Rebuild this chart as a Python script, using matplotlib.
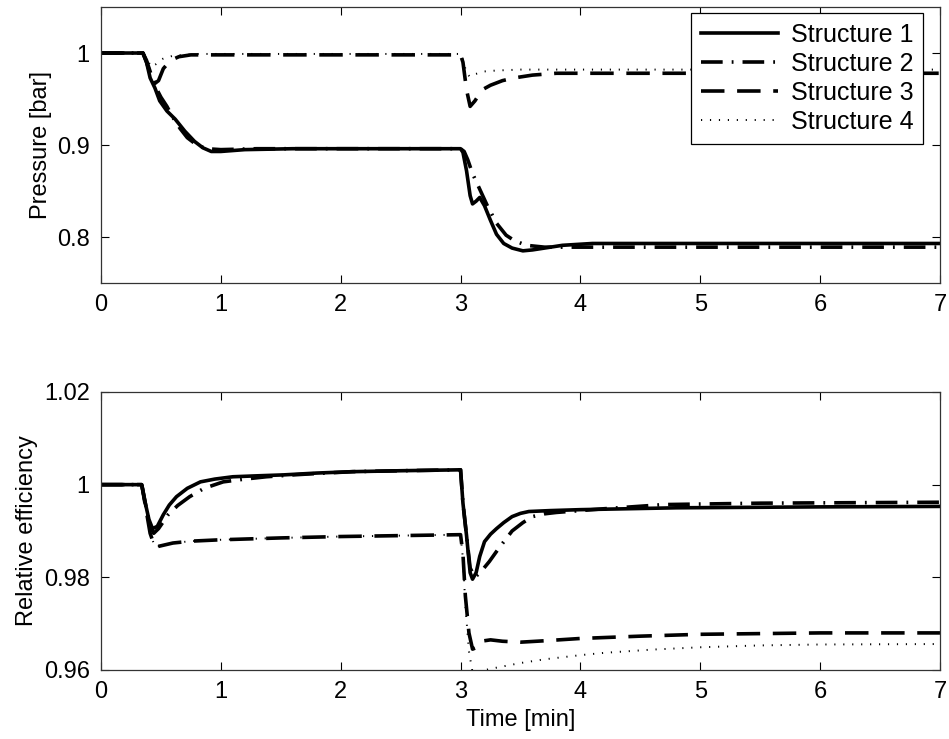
import matplotlib
matplotlib.use('Agg')

import matplotlib.pyplot as plt

plt.rcParams['font.family'] = ['Liberation Sans', 'DejaVu Sans']
plt.rcParams['font.size'] = 17

# --- Data ---
# Pressure [bar]
t_p1 = [0, 0.35, 0.38, 0.41, 0.45, 0.49, 0.55, 0.62, 0.7, 0.78, 0.85, 0.92, 1.0, 1.2, 1.6, 2.0, 2.5, 3.0,
        3.02, 3.05, 3.08, 3.1, 3.13, 3.16, 3.2, 3.25, 3.3, 3.36, 3.43, 3.52, 3.6, 3.7, 3.85, 4.1, 5.0, 6.0, 7.0]
p_s1 = [1.0, 1.0, 0.99, 0.973, 0.962, 0.948, 0.937, 0.928, 0.915, 0.904, 0.897, 0.893, 0.893, 0.895, 0.896, 0.896, 0.896, 0.896,
        0.892, 0.872, 0.845, 0.836, 0.839, 0.843, 0.834, 0.818, 0.803, 0.793, 0.788, 0.785, 0.786, 0.788, 0.791, 0.793, 0.793, 0.793, 0.793]

t_p2 = [0, 0.35, 0.38, 0.42, 0.46, 0.5, 0.55, 0.6, 0.66, 0.72, 0.8, 0.88, 1.0, 1.3, 2.0, 3.0,
        3.03, 3.06, 3.1, 3.16, 3.22, 3.3, 3.38, 3.45, 3.55, 3.7, 3.9, 4.5, 5.5, 7.0]
p_s2 = [1.0, 1.0, 0.992, 0.976, 0.962, 0.952, 0.942, 0.93, 0.918, 0.908, 0.9, 0.896, 0.895, 0.896, 0.896, 0.896,
        0.893, 0.884, 0.869, 0.852, 0.835, 0.815, 0.802, 0.796, 0.791, 0.789, 0.789, 0.789, 0.789, 0.789]

t_p3 = [0, 0.35, 0.38, 0.42, 0.45, 0.48, 0.52, 0.58, 0.65, 0.75, 1.0, 2.0, 3.0,
        3.02, 3.05, 3.08, 3.12, 3.18, 3.25, 3.35, 3.45, 3.6, 3.8, 4.2, 5.0, 7.0]
p_s3 = [1.0, 1.0, 0.99, 0.974, 0.967, 0.97, 0.983, 0.992, 0.996, 0.998, 0.998, 0.998, 0.998,
        0.99, 0.96, 0.942, 0.948, 0.96, 0.965, 0.97, 0.973, 0.976, 0.978, 0.978, 0.978, 0.978]

t_p4 = [0, 0.35, 0.38, 0.42, 0.46, 0.52, 0.6, 0.8, 1.5, 3.0,
        3.02, 3.05, 3.08, 3.12, 3.2, 3.3, 3.5, 4.0, 5.0, 7.0]
p_s4 = [1.0, 1.0, 0.994, 0.985, 0.988, 0.994, 0.997, 0.999, 0.999, 0.999,
        0.993, 0.978, 0.974, 0.977, 0.98, 0.981, 0.982, 0.982, 0.982, 0.982]

# Relative efficiency
t_e1 = [0, 0.34, 0.37, 0.4, 0.43, 0.47, 0.52, 0.57, 0.63, 0.72, 0.83, 0.95, 1.1, 1.3, 1.52, 1.8, 2.1, 2.5, 3.0,
        3.02, 3.05, 3.08, 3.1, 3.13, 3.16, 3.2, 3.25, 3.3, 3.36, 3.43, 3.5, 3.57, 3.75, 4.0, 4.8, 6.0, 7.0]
e_s1 = [1.0, 1.0, 0.996, 0.9925, 0.9905, 0.991, 0.9935, 0.9956, 0.9974, 0.9992, 1.0006, 1.0012, 1.0017, 1.0019, 1.0021, 1.0025, 1.0028, 1.003, 1.0032,
        0.996, 0.989, 0.981, 0.9796, 0.981, 0.9845, 0.9877, 0.9893, 0.9905, 0.9918, 0.9931, 0.9938, 0.9942, 0.9944, 0.9946, 0.995, 0.9952, 0.9953]

t_e2 = [0, 0.34, 0.37, 0.41, 0.44, 0.48, 0.52, 0.56, 0.64, 0.74, 0.86, 1.02, 1.2, 1.38, 1.6, 1.8, 2.1, 2.5, 3.0,
        3.02, 3.05, 3.08, 3.12, 3.17, 3.24, 3.32, 3.43, 3.52, 3.6, 3.7, 3.8, 4.0, 4.2, 4.7, 5.5, 7.0]
e_s2 = [1.0, 1.0, 0.996, 0.991, 0.9895, 0.9905, 0.992, 0.9935, 0.9955, 0.9974, 0.9992, 1.0006, 1.0012, 1.0017, 1.0021, 1.0024, 1.0028, 1.003, 1.0032,
        0.996, 0.989, 0.982, 0.98, 0.9812, 0.9834, 0.9863, 0.990, 0.9918, 0.9931, 0.9937, 0.994, 0.9944, 0.9948, 0.9957, 0.996, 0.9962]

t_e3 = [0, 0.34, 0.37, 0.41, 0.45, 0.5, 0.6, 0.75, 1.0, 1.5, 2.0, 2.5, 3.0,
        3.02, 3.04, 3.07, 3.1, 3.13, 3.17, 3.25, 3.35, 3.5, 3.7, 4.0, 4.5, 5.0, 6.0, 7.0]
e_s3 = [1.0, 1.0, 0.9955, 0.9895, 0.9865, 0.9868, 0.9874, 0.9878, 0.9881, 0.9885, 0.9888, 0.989, 0.9892,
        0.985, 0.976, 0.968, 0.9645, 0.9648, 0.9662, 0.9665, 0.9662, 0.966, 0.9663, 0.9668, 0.9673, 0.9677, 0.968, 0.968]

t_e4 = [0, 0.34, 0.37, 0.41, 0.45, 0.5, 0.6, 0.75, 1.0, 1.5, 2.0, 2.5, 3.0,
        3.02, 3.04, 3.07, 3.1, 3.15, 3.3, 3.5, 3.7, 4.0, 4.2, 4.6, 5.0, 5.5, 6.0, 7.0]
e_s4 = [1.0, 1.0, 0.9955, 0.9895, 0.9866, 0.9868, 0.9874, 0.9878, 0.9881, 0.9885, 0.9888, 0.989, 0.9892,
        0.984, 0.974, 0.964, 0.9595, 0.9597, 0.9605, 0.9615, 0.9623, 0.9632, 0.9637, 0.9644, 0.9649, 0.9653, 0.9655, 0.9656]

labels = ['Structure 1', 'Structure 2', 'Structure 3', 'Structure 4']
x_ticks = [0, 1, 2, 3, 4, 5, 6, 7]
p_ticks = [0.8, 0.9, 1.0]
p_ticklabels = ['0.8', '0.9', '1']
e_ticks = [0.96, 0.98, 1.0, 1.02]
e_ticklabels = ['0.96', '0.98', '1', '1.02']

# line styles (matlab-like)
styles = [
    dict(color='black', lw=2.6, ls='-'),
    dict(color='black', lw=2.6, ls=(0, (6, 2.5, 0.5, 2.5))),
    dict(color='black', lw=2.6, ls=(0, (6.5, 3.5))),
    dict(color='black', lw=1.4, ls=(0, (0.6, 4))),
]

fig = plt.figure(figsize=(9.49, 7.39), dpi=100)
ax1 = fig.add_axes([0.1064, 0.617, 0.8841, 0.3735])
ax2 = fig.add_axes([0.1064, 0.0934, 0.8841, 0.3762])

for t, y, st, lab in zip([t_p1, t_p2, t_p3, t_p4], [p_s1, p_s2, p_s3, p_s4], styles, labels):
    ax1.plot(t, y, label=lab, **st)

for t, y, st in zip([t_e1, t_e2, t_e3, t_e4], [e_s1, e_s2, e_s3, e_s4], styles):
    ax2.plot(t, y, **st)

ax1.set_xlim(0, 7)
ax1.set_ylim(0.75, 1.05)
ax1.set_yticks(p_ticks)
ax1.set_yticklabels(p_ticklabels)
ax1.set_ylabel('Pressure [bar]')

ax2.set_xlim(0, 7)
ax2.set_ylim(0.96, 1.02)
ax2.set_yticks(e_ticks)
ax2.set_yticklabels(e_ticklabels)
ax2.set_ylabel('Relative efficiency')
ax2.set_xlabel('Time [min]')

for ax in (ax1, ax2):
    ax.set_xticks(x_ticks)
    ax.tick_params(direction='in', top=True, right=True, length=6, width=0.8, labelsize=17, pad=8)
    for sp in ax.spines.values():
        sp.set_linewidth(0.9)
        sp.set_color('#333333')

leg = ax1.legend(loc='upper right', bbox_to_anchor=(0.98, 0.978), fontsize=18,
                 frameon=True, fancybox=False, framealpha=1, edgecolor='black',
                 handlelength=3.1, borderaxespad=0, labelspacing=0.2,
                 borderpad=0.4, handletextpad=0.5)
leg.get_frame().set_linewidth(0.9)

plt.savefig('out.png', dpi=100)
